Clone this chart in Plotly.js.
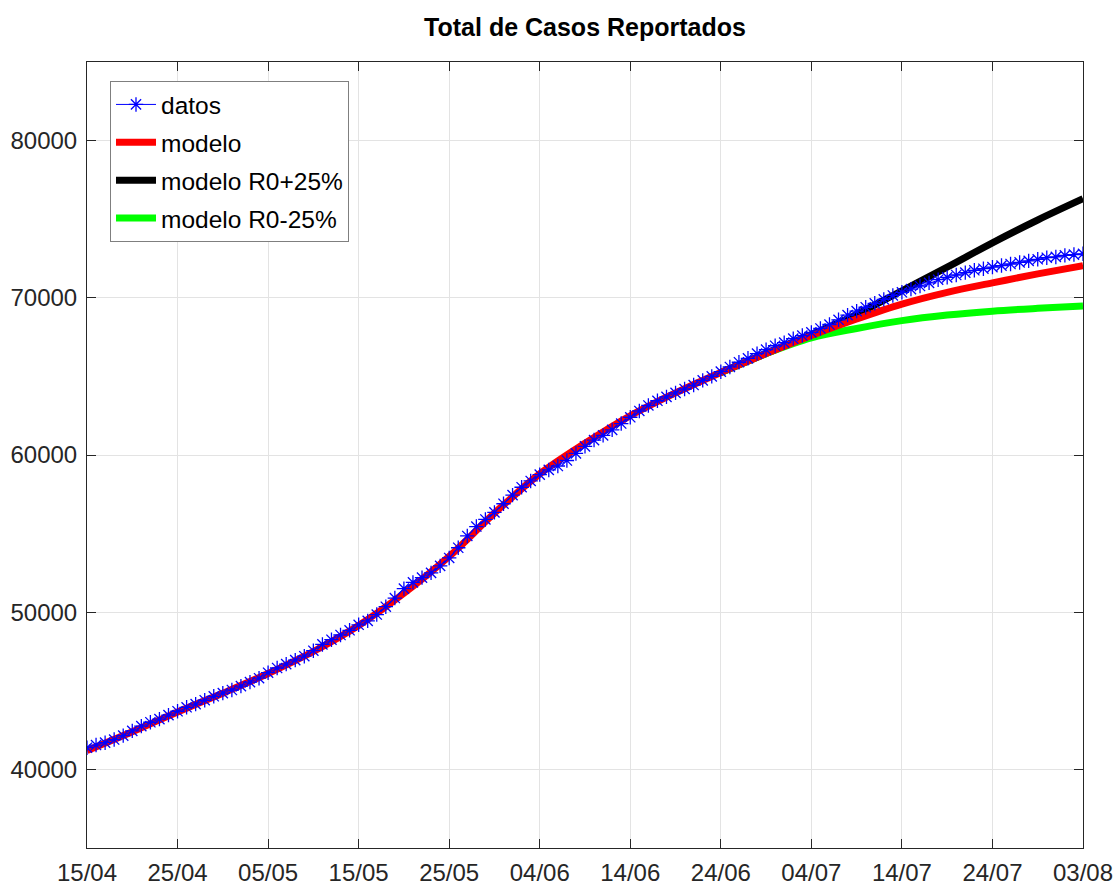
<!DOCTYPE html>
<html>
<head>
<meta charset="utf-8">
<script src="https://cdn.plot.ly/plotly-3.0.1.min.js"></script>
<style>html,body{margin:0;padding:0;background:#fff;}#chart{width:1115px;height:886px;}</style>
</head>
<body>
<div id="chart"></div>
<script>
// ---- data ----
const startDate = '2020-04-15';
const tickLabels = ['15/04','25/04','05/05','15/05','25/05','04/06','14/06','24/06','04/07','14/07','24/07','03/08'];

// Daily reported total cases (datos), one value per day from 15/04
const datos = [
  41380, 41550, 41700, 41900, 42150, 42450, 42750, 43000, 43200, 43450,
  43700, 43950, 44150, 44400, 44650, 44850, 45050, 45300, 45550, 45800,
  46150, 46450, 46700, 46950, 47200, 47550, 47950, 48250, 48550, 48850,
  49200, 49450, 49850, 50350, 50900, 51500, 51900, 52200, 52500, 52950,
  53450, 54100, 54850, 55450, 55900, 56350, 56900, 57450, 57950, 58350,
  58750, 59050, 59300, 59650, 60100, 60550, 60950, 61250, 61600, 62000,
  62400, 62800, 63150, 63450, 63700, 63950, 64200, 64450, 64750, 65000,
  65300, 65600, 65900, 66150, 66450, 66700, 66950, 67150, 67400, 67600,
  67800, 68050, 68300, 68600, 68900, 69150, 69400, 69650, 69900, 70150,
  70350, 70550, 70750, 70950, 71150, 71300, 71450, 71600, 71750, 71850,
  71950, 72050, 72150, 72250, 72350, 72450, 72550, 72600, 72700, 72750,
  72800
];

// Model curves (day offset from 15/04 -> value)
const modeloDays = [0,5,10,15,20,25,30,35,40,45,50,55,60,65,70,75,80,85,90,95,100,105,110];
const modelo     = [41200,42400,43650,44850,46100,47500,49150,51200,53550,56300,58800,60750,62500,63950,65250,66450,67600,68650,69600,70350,70950,71520,72050];

const escDays  = [70,75,80,85,90,95,100,105,110];
const modeloMas   = [65250,66450,67650,68950,70450,71950,73500,74950,76300];
const modeloMenos = [65250,66450,67450,68050,68550,68900,69150,69330,69480];

// ---- helpers ----
function dayToDate(d) {
  const t = new Date(startDate + 'T00:00:00Z');
  t.setUTCDate(t.getUTCDate() + d);
  return t.toISOString().slice(0, 10);
}
const datosX = datos.map((_, i) => dayToDate(i));
const modeloX = modeloDays.map(dayToDate);
const escX = escDays.map(dayToDate);
const tickVals = tickLabels.map((_, i) => dayToDate(i * 10));

const traces = [
  {x: escX, y: modeloMas, name: 'modelo R0+25%', mode: 'lines', legendrank: 3, legendgroup: 'c',
   line: {color: '#000000', width: 7, shape: 'spline'}},
  {x: escX, y: modeloMenos, name: 'modelo R0-25%', mode: 'lines', legendrank: 4, legendgroup: 'd',
   line: {color: '#00ff00', width: 7, shape: 'spline'}},
  {x: modeloX, y: modelo, name: 'modelo', mode: 'lines', legendrank: 2, legendgroup: 'b',
   line: {color: '#ff0000', width: 7, shape: 'spline'}},
  {x: datosX, y: datos, name: 'datos', mode: 'lines+markers', legendrank: 1, legendgroup: 'a',
   line: {color: '#0000ff', width: 1},
   marker: {symbol: 'asterisk-open', size: 12, color: '#0000ff', line: {color: '#0000ff', width: 1.3}}}
];

const fontFam = 'Liberation Sans, Arial, sans-serif';
const axisCommon = {
  showline: true, mirror: 'ticks', linecolor: '#262626', linewidth: 1,
  ticks: 'inside', ticklen: 9, tickcolor: '#262626', tickwidth: 1,
  showgrid: true, gridcolor: '#e3e3e3', gridwidth: 1, zeroline: false,
  tickfont: {family: fontFam, size: 24, color: '#262626'}
};

const layout = {
  width: 1115, height: 886,
  margin: {l: 87, r: 32, t: 62, b: 38},
  paper_bgcolor: '#ffffff', plot_bgcolor: '#ffffff',
  title: {text: '<b>Total de Casos Reportados</b>', x: 0.5, xref: 'paper', y: 1 - 27/886, yref: 'container', yanchor: 'middle',
          font: {family: fontFam, size: 25, color: '#000000'}},
  xaxis: Object.assign({}, axisCommon, {
    type: 'date', range: [dayToDate(0), dayToDate(110)],
    tickmode: 'array', tickvals: tickVals, ticktext: tickLabels, ticklabelstandoff: 3
  }),
  yaxis: Object.assign({}, axisCommon, {
    range: [35000, 85000], tickmode: 'array', tickvals: [40000, 50000, 60000, 70000, 80000],
    ticktext: ['40000', '50000', '60000', '70000', '80000'], ticklabelstandoff: 4
  }),
  showlegend: true,
  legend: {
    x: (110 - 87) / 996, y: (848 - 81) / 786, xanchor: 'left', yanchor: 'top',
    bgcolor: '#ffffff', bordercolor: '#7f7f7f', borderwidth: 1,
    traceorder: 'grouped', tracegroupgap: 3, itemwidth: 40,
    font: {family: fontFam, size: 24.5, color: '#000000'}
  }
};

Plotly.newPlot('chart', traces, layout, {displayModeBar: false, staticPlot: true});
</script>
</body>
</html>
